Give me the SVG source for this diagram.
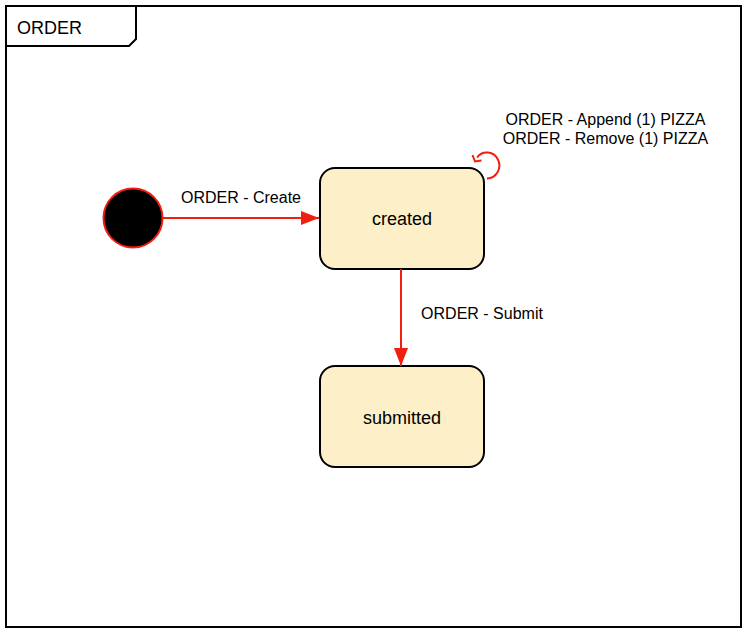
<svg xmlns="http://www.w3.org/2000/svg" width="746" height="634" viewBox="0 0 746 634">
<defs>
<style>
.lbl{font-family:"Liberation Sans",Arial,sans-serif;font-size:16px;fill:#000}
.name{font-family:"Liberation Sans",Arial,sans-serif;font-size:18px;fill:#000}
.state{fill:#fdefc7;stroke:#000;stroke-width:2}
.edge{fill:none;stroke:#f01f0f;stroke-width:2}
</style>
<marker id="tri" markerWidth="18" markerHeight="14" refX="18" refY="7" orient="auto" markerUnits="userSpaceOnUse">
<path d="M0,0 L18,7 L0,14 Z" fill="#f01f0f"/>
</marker>
</defs>
<rect width="746" height="634" fill="#fff"/>
<g id="frame">
<rect x="6" y="6" width="735" height="621" fill="#fff" stroke="#000" stroke-width="2"/>
<path d="M6,46 L129,46 L136,39 L136,6" fill="none" stroke="#000" stroke-width="2"/>
<text class="name" x="17" y="34">ORDER</text>
</g>
<g id="initial">
<circle cx="133" cy="218" r="29.5" fill="#000" stroke="#f01f0f" stroke-width="2"/>
</g>
<g id="created">
<rect class="state" x="320" y="168" width="164" height="101" rx="15" ry="15"/>
<text class="name" x="402" y="225" text-anchor="middle">created</text>
</g>
<g id="submitted">
<rect class="state" x="320" y="366" width="164" height="101" rx="15" ry="15"/>
<text class="name" x="402" y="424" text-anchor="middle">submitted</text>
</g>
<g id="connectors">
<path class="edge" d="M163,218 L319,218" marker-end="url(#tri)"/>
<text class="lbl" x="241" y="203" text-anchor="middle">ORDER - Create</text>
<path class="edge" d="M401,269 L401,366" marker-end="url(#tri)"/>
<text class="lbl" x="482" y="319" text-anchor="middle">ORDER - Submit</text>
<path class="edge" d="M487,178.5 A12.5,13 0 1 0 477,157.5"/>
<path class="edge" d="M472.5,155 L475,161.5 L481.5,160.5"/>
<text class="lbl" x="605.5" y="125" text-anchor="middle">ORDER - Append (1) PIZZA</text>
<text class="lbl" x="605.5" y="144" text-anchor="middle">ORDER - Remove (1) PIZZA</text>
</g>
</svg>
